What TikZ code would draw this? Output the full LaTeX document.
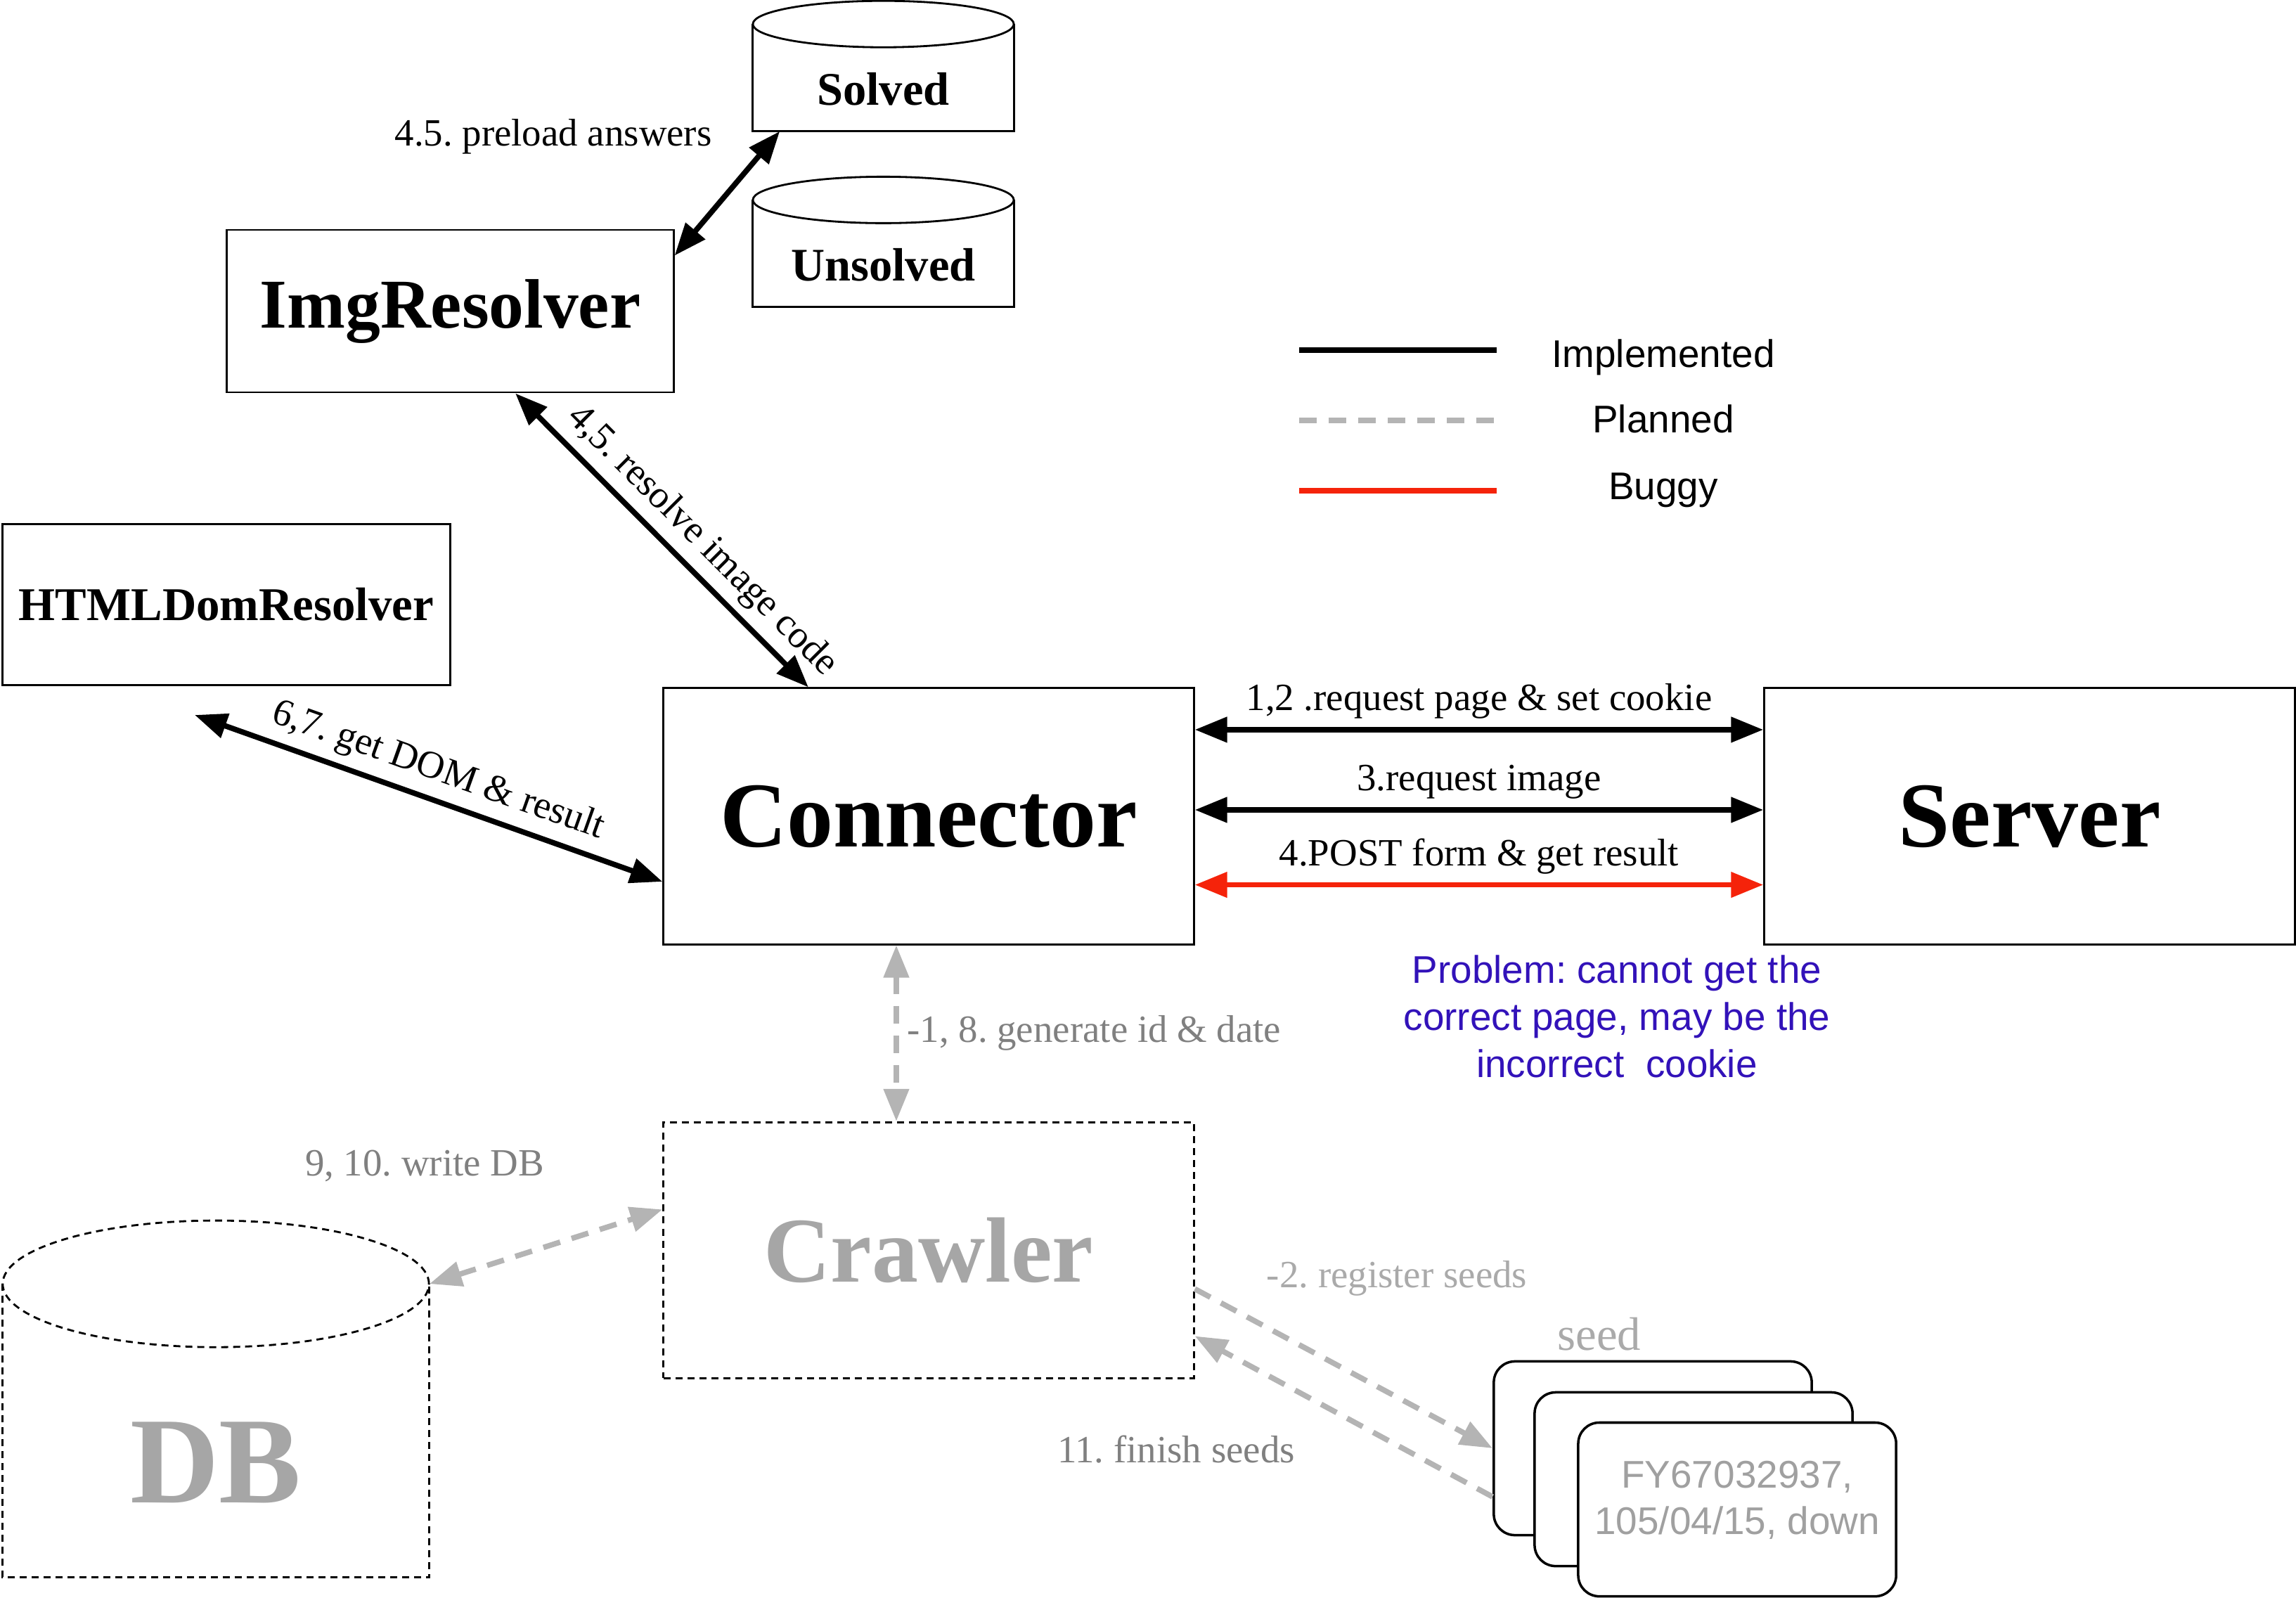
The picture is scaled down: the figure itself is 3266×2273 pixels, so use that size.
\documentclass[tikz,border=0pt]{standalone}
\usepackage{fontspec}
\setmainfont{Liberation Serif}
\setsansfont{Liberation Sans}
\frenchspacing
\usetikzlibrary{arrows.meta,positioning}
\definecolor{planned}{RGB}{180,180,180}
\definecolor{buggy}{RGB}{245,35,10}
\definecolor{faded}{RGB}{166,166,166}
\definecolor{note}{RGB}{128,128,128}
\definecolor{light}{RGB}{170,170,170}
\definecolor{seedtext}{RGB}{160,160,160}
\definecolor{problem}{RGB}{50,18,185}
\tikzstyle{line} = [draw, line width=2.2pt, <->]
\tikzstyle{plan} = [line, draw=planned, dash pattern=on 0.25cm off 0.17cm]
\tikzstyle{bug} = [line, draw=buggy]
\tikzstyle{box} = [rectangle, draw, line width=0.8pt, minimum width=7.54cm, minimum height=3.64cm, font=\fontsize{37.5}{40}\selectfont\bfseries]
\tikzstyle{planbox} = [box, dash pattern=on 0.1cm off 0.07cm, text=faded]
\tikzstyle{drum} = [rectangle, minimum width=3.71cm, minimum height=1.18cm, font=\fontsize{18.9}{20}\selectfont\bfseries]
\tikzstyle{card} = [rectangle, rounded corners=0.3cm, draw, fill=white, line width=1pt, minimum width=4.52cm, minimum height=2.47cm]
\tikzstyle{sans} = [font=\sffamily\fontsize{15.6}{19}\selectfont]

\begin{document}
\begin{tikzpicture}[x=0.01cm, y=-0.01cm, >={Triangle[length=0.46cm,width=0.35cm]}, every node/.style={font=\fontsize{15.6}{18.8}\selectfont}]
	\useasboundingbox (0,0) rectangle (3266,2273);
	
	\node [box] (conn) at (1321,1161) {Connector};
	\node [box, right of=conn, node distance=15.65cm] (server) {Server};
	\node [planbox, below of=conn, node distance=6.17cm] (crawler) {Crawler};
	
	\node [box, minimum width=6.35cm, minimum height=2.31cm, font=\fontsize{28.3}{30}\selectfont\bfseries] (imgres) at (640.5,442.5) {ImgResolver};
	\node [box, minimum width=6.36cm, minimum height=2.29cm, font=\fontsize{19}{20}\selectfont\bfseries] (htmldom) at (322,860) {HTMLDomResolver};
	
	% answer stores
	\node [drum] (solved) at (1256.5,127) {Solved};
	\node [drum, below of=solved, node distance=2.5cm] (unsolved) {Unsolved};
	\draw [line width=0.8pt] ([yshift=0.33cm]solved.north west) -- (solved.south west) -- (solved.south east) -- ([yshift=0.33cm]solved.north east);
	\draw [line width=0.8pt] ([yshift=0.33cm]solved.north) ellipse (1.855cm and 0.33cm);
	\draw [line width=0.8pt] ([yshift=0.33cm]unsolved.north west) -- (unsolved.south west) -- (unsolved.south east) -- ([yshift=0.33cm]unsolved.north east);
	\draw [line width=0.8pt] ([yshift=0.33cm]unsolved.north) ellipse (1.855cm and 0.33cm);
	
	% DB
	\node [drum, minimum width=6.06cm, minimum height=3.26cm, font=\fontsize{49.8}{52}\selectfont\bfseries, text=faded] (db) at (307,2080) {DB};
	\draw [line width=0.8pt, dash pattern=on 0.1cm off 0.07cm] ([yshift=0.9cm]db.north west) -- (db.south west) -- (db.south east) -- ([yshift=0.9cm]db.north east);
	\draw [line width=0.8pt, dash pattern=on 0.1cm off 0.07cm] ([yshift=0.9cm]db.north) ellipse (3.03cm and 0.9cm);
	
	% seeds
	\node [card] (back) at (2351,2060) {};
	\node [card, below of=back, node distance=0.44cm, xshift=0.58cm] (mid) {};
	\node [card, below of=mid, node distance=0.43cm, xshift=0.62cm, align=center, text depth=0.34cm, text=seedtext, font=\sffamily\fontsize{15.6}{18.8}\selectfont] (front) {FY67032937,\\105/04/15, down};
	\node [text=light, font=\fontsize{19}{22}\selectfont] (seedlbl) at (2275,1898) {seed};
	
	\path [line] ([yshift=-0.38cm]imgres.north east) -- ([xshift=0.39cm]solved.south west);
	\node [anchor=east] (pre) at (1025,194) {4.5. preload answers};
	
	\path [line] ([xshift=0.925cm]imgres.south) -- node [sloped, above, pos=0.57, inner sep=3pt] (rlbl) {4,5. resolve image code} ([xshift=-1.71cm]conn.north);
	
	\coordinate (domend) at (277,1017);
	\path [line] (domend) -- node [sloped, above] (dlbl) {6,7. get DOM \& result} ([yshift=-0.93cm]conn.west);
	
	\path [line] ([yshift=1.23cm]conn.east) -- node [above] (req) {1,2 .request page \& set cookie} ([yshift=1.23cm]server.west);
	\path [line] ([yshift=0.09cm]conn.east) -- node [above] (img) {3.request image} ([yshift=0.09cm]server.west);
	\path [bug] ([yshift=-0.975cm]conn.east) -- node [above] (post) {4.POST form \& get result} ([yshift=-0.975cm]server.west);
	
	\node [sans, align=center, text=problem, font=\sffamily\fontsize{15.6}{19.1}\selectfont] (prob) at (2300,1446) {Problem: cannot get the\\correct page, may be the\\incorrect\ \ cookie};
	
	\path [plan] ([xshift=-0.46cm]conn.south) -- node [right, text=note] (gen) {-1, 8. generate id \& date} ([xshift=-0.46cm]crawler.north);
	
	\path [plan] ([yshift=0.9cm]db.north east) -- ([yshift=0.58cm]crawler.west);
	\node [text=note] (wdb) at (604,1658) {9, 10. write DB};
	
	\path [plan, ->] ([yshift=-0.55cm]crawler.east) -- (back.west);
	\node [text=light] (reg) at (1987,1818) {-2. register seeds};
	\path [plan, ->] ([yshift=-0.69cm]back.west) -- ([yshift=-1.22cm]crawler.east);
	\node [text=note] (fin) at (1673,2062) {11. finish seeds};
	
	% legend
	\coordinate (impl) at (1848,498);
	\coordinate (plnd) at (1848,598);
	\coordinate (bggy) at (1848,698);
	\draw [line width=2.3pt] (impl) -- ++(281,0);
	\draw [line width=2.3pt, draw=planned, dash pattern=on 0.25cm off 0.17cm] (plnd) -- ++(281,0);
	\draw [line width=2.3pt, draw=buggy] (bggy) -- ++(281,0);
	\node [sans, anchor=base] (limpl) at (2366,522) {Implemented};
	\node [sans, anchor=base] (lplnd) at (2366,615) {Planned};
	\node [sans, anchor=base] (lbggy) at (2366,710) {Buggy};
	
\end{tikzpicture}
\end{document}
